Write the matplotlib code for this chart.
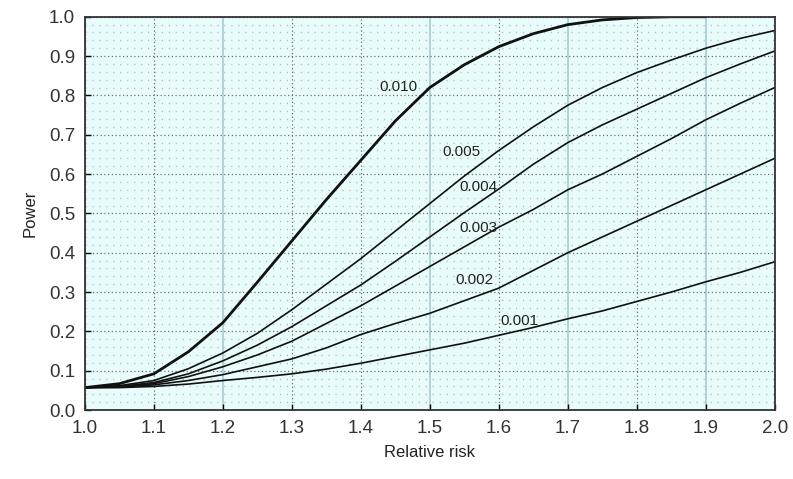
import matplotlib
matplotlib.use("Agg")
import matplotlib.pyplot as plt
import numpy as np

# relative risk grid (every 0.05)
rr = [1.00, 1.05, 1.10, 1.15, 1.20, 1.25, 1.30, 1.35, 1.40, 1.45, 1.50,
      1.55, 1.60, 1.65, 1.70, 1.75, 1.80, 1.85, 1.90, 1.95, 2.00]

p_010 = [0.057, 0.067, 0.092, 0.148, 0.222, 0.325, 0.430, 0.535, 0.635, 0.735, 0.820,
         0.878, 0.924, 0.957, 0.980, 0.992, 0.998, 1.000, 1.000, 1.000, 1.000]
p_005 = [0.057, 0.062, 0.075, 0.105, 0.145, 0.195, 0.255, 0.320, 0.385, 0.455, 0.525,
         0.595, 0.660, 0.720, 0.775, 0.820, 0.858, 0.890, 0.920, 0.945, 0.965]
p_004 = [0.057, 0.060, 0.070, 0.092, 0.125, 0.165, 0.212, 0.265, 0.318, 0.378, 0.440,
         0.502, 0.562, 0.625, 0.680, 0.725, 0.765, 0.805, 0.845, 0.880, 0.913]
p_003 = [0.057, 0.059, 0.067, 0.085, 0.110, 0.140, 0.175, 0.220, 0.265, 0.315, 0.365,
         0.415, 0.465, 0.510, 0.560, 0.600, 0.645, 0.690, 0.738, 0.780, 0.820]
p_002 = [0.057, 0.058, 0.064, 0.075, 0.090, 0.110, 0.130, 0.158, 0.192, 0.220, 0.246,
         0.278, 0.310, 0.355, 0.400, 0.440, 0.480, 0.520, 0.560, 0.600, 0.640]
p_001 = [0.057, 0.057, 0.060, 0.066, 0.075, 0.083, 0.092, 0.104, 0.119, 0.136, 0.153,
         0.170, 0.190, 0.210, 0.232, 0.252, 0.276, 0.300, 0.326, 0.350, 0.377]

curves = [
    ("0.010", p_010, (1.454, 0.822)),
    ("0.005", p_005, (1.546, 0.656)),
    ("0.004", p_004, (1.570, 0.567)),
    ("0.003", p_003, (1.570, 0.463)),
    ("0.002", p_002, (1.565, 0.331)),
    ("0.001", p_001, (1.630, 0.226)),
]

plt.rcParams["font.family"] = ["Liberation Sans Narrow", "Liberation Sans", "DejaVu Sans"]

fig = plt.figure(figsize=(7.93, 4.79), dpi=100)
ax = fig.add_axes([0.107, 0.144, 0.870, 0.821])
ax.set_facecolor("#e8fcfc")

ax.set_xlim(1.0, 2.0)
ax.set_ylim(0.0, 1.0)
xt = np.arange(1.0, 2.01, 0.1)
yt = np.arange(0.0, 1.01, 0.1)
ax.set_xticks(xt)
ax.set_yticks(yt)
ax.set_xticklabels([f"{v:.1f}" for v in xt])
ax.set_yticklabels([f"{v:.1f}" for v in yt])
ax.set_yticks(np.arange(0.0, 1.001, 0.02), minor=True)

# fine dotted background + dotted major grid
ax.grid(which="minor", axis="y", color="#b4b0c8", linestyle=(0, (0.8, 4.2)), linewidth=1.0)
ax.grid(which="major", color="#707070", linestyle=(0, (1, 2)), linewidth=0.9)
# a few vertical grid lines show up as solid pale teal in the original
for i, gl in enumerate(ax.xaxis.get_gridlines()):
    if i in (2, 5, 7, 9):
        gl.set_linestyle("-")
        gl.set_color("#a9cdd0")
        gl.set_linewidth(1.2)

ax.tick_params(which="major", direction="in", length=4, width=1, labelsize=13.5,
               pad=7, labelcolor="#333333")
ax.tick_params(which="minor", length=0)
for s in ax.spines.values():
    s.set_color("#333333")
    s.set_linewidth(1.3)

for lab, vals, pos in curves:
    lw = 2.0 if lab == "0.010" else 1.2
    x = rr if lab != "0.010" else rr[:-2]
    y = vals if lab != "0.010" else vals[:-2]
    ax.plot(x, y, color="#111111", linewidth=lw, solid_capstyle="round",
            solid_joinstyle="round")
    ax.text(pos[0], pos[1], lab, fontsize=11, ha="center", va="center", color="#222222")

ax.set_xlabel("Relative risk", fontsize=12, labelpad=6, color="#222222")
ax.set_ylabel("Power", fontsize=12, labelpad=8, color="#222222")

fig.savefig("out.png", dpi=100)
